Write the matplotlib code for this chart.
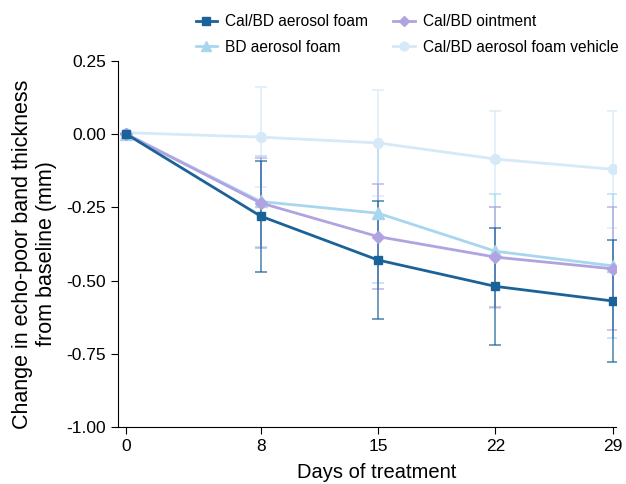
import matplotlib
matplotlib.use('Agg')
import matplotlib.pyplot as plt
import numpy as np

plt.rcParams['font.family'] = ['Liberation Sans', 'DejaVu Sans']

days = [0, 8, 15, 22, 29]

# mean change (mm) and SD per series
calbd_foam = [0.0, -0.28, -0.43, -0.52, -0.57]
calbd_foam_sd = [0.0, 0.19, 0.20, 0.20, 0.21]
ointment = [0.0, -0.235, -0.35, -0.42, -0.46]
ointment_sd = [0.0, 0.155, 0.18, 0.17, 0.21]
bd_foam = [0.0, -0.23, -0.27, -0.40, -0.45]
bd_foam_sd = [0.0, 0.155, 0.24, 0.195, 0.245]
vehicle = [0.005, -0.01, -0.03, -0.085, -0.12]
vehicle_sd = [0.0, 0.17, 0.18, 0.165, 0.20]

fig = plt.figure(figsize=(6.26, 4.84), dpi=100)
ax = fig.add_axes([0.1885, 0.118, 0.796, 0.756])

series = [
    ('Cal/BD aerosol foam vehicle', vehicle, vehicle_sd, '#d5e9f7', 'o', 7),
    ('BD aerosol foam', bd_foam, bd_foam_sd, '#a9d6ef', '^', 8),
    ('Cal/BD ointment', ointment, ointment_sd, '#b1a3e0', 'D', 6),
    ('Cal/BD aerosol foam', calbd_foam, calbd_foam_sd, '#1b6299', 's', 6),
]
handles = {}
for name, y, sd, c, m, ms in series:
    ax.errorbar(days, y, yerr=sd, color=c, alpha=0.8, lw=1.1, capsize=4,
                capthick=1.1, fmt='none', zorder=2)
    h, = ax.plot(days, y, color=c, lw=2, marker=m, ms=ms, zorder=3, label=name)
    handles[name] = h

order = ['Cal/BD aerosol foam', 'BD aerosol foam', 'Cal/BD ointment',
         'Cal/BD aerosol foam vehicle']
fig.legend([handles[n] for n in order], order, loc='upper left',
           bbox_to_anchor=(0.29, 1.0), ncol=2, frameon=False, fontsize=11.2,
           handlelength=1.4, handletextpad=0.5, columnspacing=1.6,
           labelspacing=0.7, markerscale=0.9)

ax.set_xlim(-0.5, 29.2)
ax.set_ylim(-1.0, 0.25)
ax.set_xticks(days)
ax.set_yticks([0.25, 0.0, -0.25, -0.5, -0.75, -1.0])
ax.set_yticklabels(['0.25', '0.00', '-0.25', '-0.50', '-0.75', '-1.00'])
ax.tick_params(labelsize=12.5, direction='out', length=5)
ax.spines['top'].set_visible(False)
ax.spines['right'].set_visible(False)
ax.set_xlabel('Days of treatment', fontsize=14.5)
ax.xaxis.set_label_coords(0.52, -0.1)
ax.set_ylabel('Change in echo-poor band thickness\nfrom baseline (mm)', fontsize=15.5)
ax.yaxis.set_label_coords(-0.122, 0.473)

fig.savefig('out.png', dpi=100)
